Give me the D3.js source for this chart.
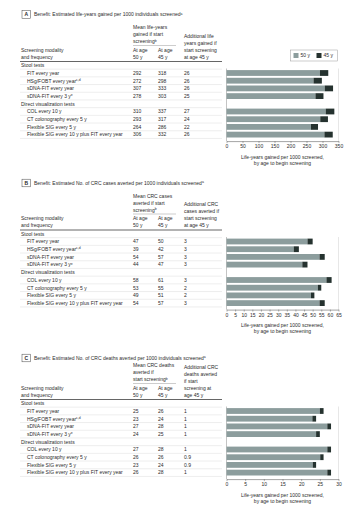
<!DOCTYPE html>
<html><head><meta charset="utf-8">
<script src="https://cdn.jsdelivr.net/npm/d3@7/dist/d3.min.js"></script>
<style>
html,body{margin:0;padding:0;background:#fff;}
svg{display:block;font-family:"Liberation Sans",Arial,sans-serif;}
</style></head>
<body><svg id="c" width="360" height="522"></svg>
<script>
// ---- data ----
const groupLabels = ["Stool tests", "Direct visualization tests"];
const modalities = [
  ["FIT every year", ""],
  ["HSg/FOBT every year", "c,d"],
  ["sDNA-FIT every year", ""],
  ["sDNA-FIT every 3 y", "e"],
  ["COL every 10 y", ""],
  ["CT colonography every 5 y", ""],
  ["Flexible SIG every 5 y", ""],
  ["Flexible SIG every 10 y plus FIT every year", ""]
];
const lifeYears50 = [292, 272, 307, 278, 310, 293, 264, 306];
const lifeYears45 = [318, 298, 333, 303, 337, 317, 286, 332];
const lifeYearsAdd = ["26", "26", "26", "25", "27", "24", "22", "26"];
const cases50 = [47, 39, 54, 44, 58, 53, 49, 54];
const cases45 = [50, 42, 57, 47, 61, 55, 51, 57];
const casesAdd = ["3", "3", "3", "3", "3", "2", "2", "3"];
const deaths50 = [25, 23, 27, 24, 27, 26, 23, 26];
const deaths45 = [26, 24, 28, 25, 28, 26, 24, 28];
const deathsAdd = ["1", "1", "1", "1", "1", "0.9", "0.9", "1"];
const ticksA = [0, 50, 100, 150, 200, 250, 300, 350];
const ticksB = [0, 5, 10, 15, 20, 25, 30, 35, 40, 45, 50, 55, 60, 65];
const ticksC = [0, 5, 10, 15, 20, 25, 30];
const legendLabels = ["50 y", "45 y"];
const axisTitle = ["Life-years gained per 1000 screened,", "by age to begin screening"];

const panels = [
  {letter: "A", title: "Benefit: Estimated life-years gained per 1000 individuals screened", titleSup: "a",
   mean: ["Mean life-years", "gained if start", "screening"],
   add: ["Additional life", "years gained if", "start screening", "at age 45 y"],
   v50: lifeYears50, v45: lifeYears45, add_: lifeYearsAdd, ticks: ticksA, titleY: 14.5, row0: 73, legend: true},
  {letter: "B", title: "Benefit: Estimated No. of CRC cases averted per 1000 individuals screened", titleSup: "a",
   mean: ["Mean CRC cases", "averted if start", "screening"],
   add: ["Additional CRC", "cases averted if", "start screening", "at age 45 y"],
   v50: cases50, v45: cases45, add_: casesAdd, ticks: ticksB, titleY: 183, row0: 241.5, legend: false},
  {letter: "C", title: "Benefit: Estimated No. of CRC deaths averted per 1000 individuals screened", titleSup: "a",
   mean: ["Mean CRC deaths", "averted if", "start screening"],
   add: ["Additional CRC", "deaths averted", "if start", "screening at", "age 45 y"],
   v50: deaths50, v45: deaths45, add_: deathsAdd, ticks: ticksC, titleY: 358, row0: 411, legend: false}
];

const svg = d3.select("#c");
const txt = "#2b2b2b";
const FS = 5;
const light = "#8c9d9d", dark = "#25322f";
const step = 7.7, barH = 5.8;
const xL = 226.5, xR = 338.5;

function text(g, x, y, s, opts = {}) {
  const t = g.append("text").attr("x", x).attr("y", y + 1.8)
    .attr("font-size", opts.fs || FS).attr("fill", opts.fill || txt)
    .attr("text-anchor", opts.anchor || "start")
    .attr("font-weight", opts.bold ? "bold" : null);
  t.append("tspan").text(s);
  if (opts.sup) t.append("tspan").attr("font-size", 3.4).attr("dy", -1.6).text(opts.sup);
  return t;
}

panels.forEach(p => {
  const g = svg.append("g");
  const r0 = p.row0;
  // title box
  g.append("rect").attr("x", 22).attr("y", p.titleY - 3.8).attr("width", 8.5).attr("height", 7.6)
    .attr("fill", "#fff").attr("stroke", "#444").attr("stroke-width", 0.5);
  text(g, 26.25, p.titleY, p.letter, {anchor: "middle", bold: true, fs: 5});
  text(g, 34, p.titleY, p.title, {sup: p.titleSup});

  // headers
  const bottom = r0 - 16;
  p.mean.forEach((s, i) => {
    const y = bottom - 15.5 - (p.mean.length - 1 - i) * 7;
    text(g, 133, y, s, {sup: i === p.mean.length - 1 ? "b" : null});
  });
  g.append("line").attr("x1", 133).attr("x2", 176).attr("y1", bottom - 11.5).attr("y2", bottom - 11.5)
    .attr("stroke", "#9a9a9a").attr("stroke-width", 0.5);
  text(g, 133, bottom - 7, "At age");
  text(g, 133, bottom, "50 y");
  text(g, 158, bottom - 7, "At age");
  text(g, 158, bottom, "45 y");
  p.add.forEach((s, i) => {
    text(g, 184, bottom - (p.add.length - 1 - i) * 7, s);
  });
  text(g, 21, bottom - 7, "Screening modality");
  text(g, 21, bottom, "and frequency");
  g.append("line").attr("x1", 20).attr("x2", 222).attr("y1", r0 - 11.5).attr("y2", r0 - 11.5)
    .attr("stroke", "#555").attr("stroke-width", 0.9);

  // row slots
  const slots = [groupLabels[0], ...modalities.slice(0, 4).map(d => d[0]), groupLabels[1], ...modalities.slice(4).map(d => d[0])];
  const y = d3.scalePoint().domain(slots).range([r0 - step, r0 + 8 * step]);

  // separators
  slots.forEach(s => {
    g.append("line").attr("x1", 20).attr("x2", 222).attr("y1", y(s) + step / 2).attr("y2", y(s) + step / 2)
      .attr("stroke", "#dcdcdc").attr("stroke-width", 0.5);
  });
  text(g, 21, y(groupLabels[0]), groupLabels[0]);
  text(g, 21, y(groupLabels[1]), groupLabels[1]);
  modalities.forEach((m, i) => {
    const yy = y(m[0]);
    text(g, 27, yy, m[0], {sup: m[1] || null});
    text(g, 133, yy, String(p.v50[i]));
    text(g, 158, yy, String(p.v45[i]));
    text(g, 184, yy, p.add_[i]);
  });

  // chart
  const xmax = p.ticks[p.ticks.length - 1];
  const x = d3.scaleLinear().domain([0, xmax]).range([xL, xR]);
  const axisY = r0 + 8 * step + 6.5;
  const topY = r0 - 4.5;
  g.append("line").attr("x1", xL).attr("x2", xL).attr("y1", topY).attr("y2", axisY).attr("stroke", "#888").attr("stroke-width", 0.5);
  g.append("line").attr("x1", xR).attr("x2", xR).attr("y1", topY).attr("y2", axisY).attr("stroke", "#cfcfcf").attr("stroke-width", 0.5);

  const bars = g.append("g");
  modalities.forEach((m, i) => {
    const yy = y(m[0]) - barH / 2;
    const base = p.v45[i] - (+p.add_[i]);
    bars.append("rect").attr("x", x(0)).attr("y", yy).attr("width", x(base) - x(0)).attr("height", barH)
      .attr("fill", light);
    bars.append("rect").attr("x", x(base)).attr("y", yy).attr("width", x(p.v45[i]) - x(base)).attr("height", barH)
      .attr("fill", dark);
  });

  const ax = g.append("g").attr("transform", `translate(0,${axisY})`)
    .call(d3.axisBottom(x).tickValues(p.ticks).tickSize(2).tickPadding(1.5).tickSizeOuter(0));
  ax.select(".domain").attr("stroke", "#666").attr("stroke-width", 0.6);
  ax.selectAll(".tick line").attr("stroke", "#666").attr("stroke-width", 0.5);
  ax.selectAll(".tick text").attr("font-size", FS).attr("fill", txt).attr("font-family", "Liberation Sans, Arial, sans-serif");
  const cx = (xL + xR) / 2;
  text(g, cx, axisY + 16, axisTitle[0], {anchor: "middle"});
  text(g, cx, axisY + 22, axisTitle[1], {anchor: "middle"});

  if (p.legend) {
    const lg = g.append("g");
    lg.append("rect").attr("x", 290.5).attr("y", 50).attr("width", 47).attr("height", 11)
      .attr("fill", "#fff").attr("stroke", "#9a9a9a").attr("stroke-width", 0.5);
    [light, dark].forEach((c, i) => {
      lg.append("rect").attr("x", 293.5 + i * 23).attr("y", 53).attr("width", 5).attr("height", 5).attr("fill", c);
      text(lg, 300.5 + i * 23, 55.5, legendLabels[i]);
    });
  }
});
</script></body></html>
